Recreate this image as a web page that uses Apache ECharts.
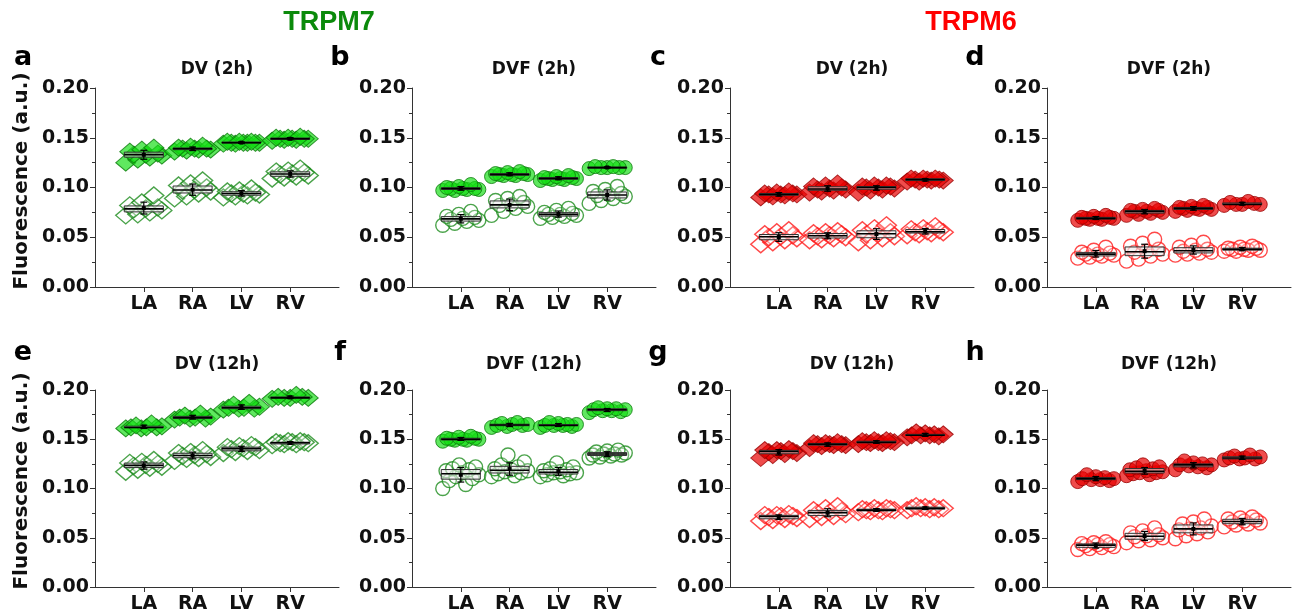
<!DOCTYPE html>
<html><head><meta charset="utf-8">
<script src="https://cdn.jsdelivr.net/npm/echarts@6/dist/echarts.min.js"></script>
<style>html,body{margin:0;padding:0;background:#fff}#c{width:1296px;height:616px}</style>
</head><body><div id="c"></div>
<script>
// ---------- tick labels / categories ----------
const categories = ['LA', 'RA', 'LV', 'RV'];
const yTickValues = [0, 0.05, 0.10, 0.15, 0.20];
const geneHeaders = ['TRPM7', 'TRPM6'];
const panelLetters = ['a', 'b', 'c', 'd', 'e', 'f', 'g', 'h'];
const panelTitles = ['DV (2h)', 'DVF (2h)', 'DV (2h)', 'DVF (2h)', 'DV (12h)', 'DVF (12h)', 'DV (12h)', 'DVF (12h)'];

// ---------- data: each array = [LA, RA, LV, RV] ----------
// a: TRPM7, DV (2h)
const a_filled = [
  [0.125,0.128,0.130,0.132,0.133,0.133,0.134,0.136,0.138,0.140],
  [0.136,0.137,0.138,0.138,0.139,0.139,0.139,0.140,0.141,0.142],
  [0.144,0.144,0.145,0.145,0.145,0.145,0.145,0.146,0.146,0.146],
  [0.147,0.148,0.148,0.149,0.149,0.149,0.149,0.150,0.150,0.151]];
const a_open = [
  [0.072,0.073,0.075,0.077,0.078,0.079,0.080,0.082,0.085,0.092],
  [0.089,0.091,0.094,0.096,0.097,0.098,0.100,0.102,0.104,0.107],
  [0.090,0.091,0.092,0.093,0.094,0.094,0.095,0.096,0.097,0.099],
  [0.109,0.110,0.111,0.112,0.113,0.114,0.115,0.116,0.117,0.119]];
// b: TRPM7, DVF (2h)
const b_filled = [
  [0.097,0.097,0.098,0.098,0.099,0.099,0.099,0.100,0.101,0.103],
  [0.111,0.112,0.112,0.113,0.113,0.113,0.114,0.114,0.115,0.116],
  [0.107,0.108,0.108,0.109,0.109,0.109,0.110,0.110,0.111,0.112],
  [0.119,0.120,0.120,0.120,0.120,0.121,0.121]];
const b_open = [
  [0.062,0.064,0.066,0.067,0.068,0.069,0.070,0.071,0.073,0.076],
  [0.072,0.076,0.079,0.081,0.082,0.083,0.085,0.087,0.089,0.091],
  [0.069,0.070,0.071,0.072,0.073,0.073,0.074,0.075,0.077,0.079],
  [0.084,0.087,0.089,0.091,0.092,0.093,0.094,0.096,0.098,0.101]];
// c: TRPM6, DV (2h)
const c_filled = [
  [0.090,0.091,0.092,0.093,0.093,0.093,0.094,0.094,0.095,0.096],
  [0.095,0.096,0.097,0.098,0.098,0.099,0.100,0.101,0.102,0.104],
  [0.095,0.097,0.098,0.099,0.100,0.100,0.101,0.101,0.102,0.102],
  [0.106,0.106,0.107,0.107,0.108,0.108,0.108,0.109,0.109,0.109]];
const c_open = [
  [0.043,0.045,0.047,0.049,0.050,0.051,0.052,0.053,0.055,0.057],
  [0.047,0.048,0.049,0.050,0.051,0.052,0.053,0.054,0.055,0.056],
  [0.045,0.047,0.049,0.051,0.053,0.054,0.055,0.057,0.059,0.062],
  [0.052,0.053,0.054,0.055,0.055,0.056,0.057,0.058,0.059,0.061]];
// d: TRPM6, DVF (2h)
const d_filled = [
  [0.067,0.068,0.068,0.069,0.069,0.069,0.070,0.070,0.071,0.072],
  [0.072,0.073,0.074,0.075,0.076,0.076,0.077,0.077,0.078,0.079],
  [0.076,0.077,0.078,0.078,0.079,0.079,0.080,0.080,0.081,0.082],
  [0.082,0.083,0.083,0.083,0.084,0.085,0.086]];
const d_open = [
  [0.029,0.030,0.031,0.032,0.033,0.033,0.034,0.035,0.037,0.040],
  [0.026,0.028,0.031,0.033,0.035,0.036,0.038,0.041,0.044,0.048],
  [0.032,0.033,0.034,0.035,0.036,0.037,0.038,0.040,0.042,0.045],
  [0.036,0.036,0.037,0.037,0.038,0.038,0.039,0.039,0.040,0.041]];
// e: TRPM7, DV (12h)
const e_filled = [
  [0.161,0.161,0.162,0.162,0.162,0.163,0.164,0.166],
  [0.170,0.171,0.171,0.172,0.172,0.173,0.174,0.176],
  [0.180,0.181,0.181,0.182,0.182,0.183,0.185,0.187],
  [0.191,0.192,0.192,0.192,0.193,0.193,0.195]];
const e_open = [
  [0.117,0.119,0.121,0.122,0.123,0.124,0.125,0.126,0.127,0.129],
  [0.128,0.130,0.131,0.132,0.133,0.134,0.135,0.136,0.137,0.139],
  [0.136,0.137,0.138,0.139,0.140,0.141,0.142,0.142,0.143,0.144],
  [0.144,0.145,0.145,0.146,0.146,0.147,0.147,0.147,0.148,0.148]];
// f: TRPM7, DVF (12h)
const f_filled = [
  [0.148,0.149,0.149,0.150,0.150,0.150,0.151,0.151,0.152,0.153],
  [0.162,0.163,0.164,0.164,0.165,0.165,0.166,0.167],
  [0.162,0.163,0.164,0.164,0.164,0.165,0.165,0.166,0.167],
  [0.177,0.178,0.179,0.179,0.180,0.180,0.181,0.181,0.182]];
const f_open = [
  [0.100,0.104,0.108,0.110,0.112,0.114,0.116,0.118,0.119,0.120,0.122,0.124],
  [0.112,0.113,0.115,0.116,0.117,0.118,0.119,0.120,0.122,0.124,0.127,0.134],
  [0.112,0.113,0.114,0.115,0.116,0.116,0.117,0.118,0.119,0.120,0.122,0.126],
  [0.131,0.132,0.133,0.134,0.134,0.135,0.135,0.136,0.137,0.138,0.139]];
// g: TRPM6, DV (12h)
const g_filled = [
  [0.131,0.134,0.135,0.136,0.137,0.138,0.138,0.139,0.139,0.140],
  [0.141,0.143,0.144,0.144,0.145,0.145,0.145,0.146,0.146,0.147],
  [0.145,0.146,0.146,0.147,0.147,0.147,0.148,0.148,0.149,0.149],
  [0.152,0.153,0.154,0.154,0.154,0.155,0.155,0.156,0.157]];
const g_open = [
  [0.067,0.068,0.069,0.070,0.071,0.072,0.072,0.073,0.073,0.074],
  [0.069,0.071,0.072,0.074,0.075,0.076,0.077,0.078,0.080,0.082],
  [0.076,0.077,0.077,0.078,0.078,0.078,0.079,0.079,0.080,0.080],
  [0.078,0.079,0.079,0.080,0.080,0.080,0.081,0.081,0.082]];
// h: TRPM6, DVF (12h)
const h_filled = [
  [0.107,0.108,0.109,0.109,0.110,0.110,0.111,0.112,0.114],
  [0.113,0.114,0.115,0.116,0.116,0.117,0.118,0.119,0.120,0.121,0.122,0.124],
  [0.119,0.121,0.122,0.123,0.124,0.124,0.125,0.126,0.128],
  [0.129,0.130,0.130,0.131,0.131,0.132,0.133,0.134]];
const h_open = [
  [0.038,0.039,0.040,0.041,0.042,0.043,0.043,0.044,0.045,0.046],
  [0.045,0.047,0.048,0.050,0.051,0.052,0.053,0.055,0.057,0.060],
  [0.049,0.052,0.054,0.056,0.058,0.059,0.060,0.062,0.064,0.066,0.069],
  [0.061,0.063,0.064,0.065,0.066,0.067,0.068,0.069,0.070,0.071]];

const filledSets = [a_filled, b_filled, c_filled, d_filled, e_filled, f_filled, g_filled, h_filled];
const openSets = [a_open, b_open, c_open, d_open, e_open, f_open, g_open, h_open];

// ---------- styling ----------
const gridLefts = [95, 412, 730, 1047];
const gridW = 244;
const rows = [{top: 88, h: 199}, {top: 390, h: 197}];
const TXT = 'DejaVu Sans';
const greenFilled = {color: 'rgba(20,222,20,0.85)', borderColor: '#0b7a0b', borderWidth: 1};
const greenOpen = {color: 'rgba(255,255,255,0.3)', borderColor: '#1d8c1d', borderWidth: 1.4};
const redFilled = {color: 'rgba(232,0,0,0.88)', borderColor: '#9a0000', borderWidth: 1};
const redOpen = {color: 'rgba(255,255,255,0.3)', borderColor: '#ff1a1a', borderWidth: 1.4};

function gcd(a, b) { return b ? gcd(b, a % b) : a; }
function jitterOffsets(n, spread) {
  const m = [3, 7, 5, 11].find(k => gcd(k, n) === 1);
  const out = [];
  for (let i = 0; i < n; i++) {
    const k = (i * m) % n;
    out.push(n === 1 ? 0 : -spread + 2 * spread * k / (n - 1));
  }
  return out;
}
function stats(arr) {
  const s = [...arr].sort((a, b) => a - b);
  const q = p => { const pos = (s.length - 1) * p, lo = Math.floor(pos), hi = Math.ceil(pos); return s[lo] + (s[hi] - s[lo]) * (pos - lo); };
  const mean = s.reduce((a, b) => a + b, 0) / s.length;
  const sd = Math.sqrt(s.reduce((a, b) => a + (b - mean) ** 2, 0) / (s.length - 1));
  return [q(0.25), q(0.5), q(0.75), mean, sd];
}
function scatterData(groups) {
  const out = [];
  groups.forEach((vals, ci) => {
    const sorted = [...vals].sort((a, b) => a - b);
    const offs = jitterOffsets(sorted.length, 0.37);
    sorted.forEach((v, i) => out.push([ci + 1 + offs[i], v]));
  });
  return out;
}
function boxData(groups) { return groups.map((vals, ci) => [ci + 1, ...stats(vals)]); }
function renderBox(params, api) {
  const x = api.value(0), q1 = api.value(1), med = api.value(2), q3 = api.value(3), mean = api.value(4), sd = api.value(5);
  const bw = 0.4, cw = 0.07;
  const p = (xx, yy) => api.coord([xx, yy]);
  const tl = p(x - bw, q3), br = p(x + bw, q1);
  const ym = p(x, med)[1], yt = p(x, mean + sd)[1], yb = p(x, mean - sd)[1], ymean = p(x, mean)[1];
  const xc = p(x, 0)[0], cl = p(x - cw, 0)[0], cr = p(x + cw, 0)[0];
  return {type: 'group', children: [
    {type: 'rect', shape: {x: tl[0], y: tl[1], width: br[0] - tl[0], height: Math.max(br[1] - tl[1], 1)},
      style: {fill: 'rgba(235,235,235,0.6)', stroke: '#333', lineWidth: 1}},
    {type: 'line', shape: {x1: tl[0], y1: ym, x2: br[0], y2: ym}, style: {stroke: '#000', lineWidth: 1.6}},
    {type: 'line', shape: {x1: xc, y1: yt, x2: xc, y2: yb}, style: {stroke: '#000', lineWidth: 1.2}},
    {type: 'line', shape: {x1: cl, y1: yt, x2: cr, y2: yt}, style: {stroke: '#000', lineWidth: 1.2}},
    {type: 'line', shape: {x1: cl, y1: yb, x2: cr, y2: yb}, style: {stroke: '#000', lineWidth: 1.2}},
    {type: 'rect', shape: {x: xc - 2, y: ymean - 2, width: 4, height: 4}, style: {fill: '#000'}}
  ]};
}

const grid = [], xAxis = [], yAxis = [], series = [], graphic = [];
for (let i = 0; i < 8; i++) {
  const r = rows[Math.floor(i / 4)], col = i % 4;
  const left = gridLefts[col];
  grid.push({left: left, top: r.top, width: gridW, height: r.h});
  xAxis.push({type: 'value', gridIndex: i, min: 0, max: 5, interval: 1,
    axisLine: {show: true, lineStyle: {color: '#333', width: 1}},
    axisTick: {show: true, length: 5, inside: false, customValues: [1, 2, 3, 4], lineStyle: {color: '#333'}},
    splitLine: {show: false},
    axisLabel: {customValues: [1, 2, 3, 4], formatter: v => categories[Math.round(v) - 1] || '',
      fontFamily: TXT, fontWeight: 'bold', fontSize: 19, color: '#111', margin: 8}});
  yAxis.push({type: 'value', gridIndex: i, min: 0, max: 0.2, interval: 0.05,
    axisLine: {show: true, lineStyle: {color: '#333', width: 1}},
    axisTick: {show: true, length: 5, lineStyle: {color: '#333'}},
    minorTick: {show: true, splitNumber: 2, length: 3, lineStyle: {color: '#333'}},
    splitLine: {show: false},
    axisLabel: {formatter: v => v.toFixed(2), fontFamily: TXT, fontWeight: 'bold', fontSize: 19, color: '#111', margin: 6}});
  const isGreen = col < 2;
  const sym = (col % 2 === 0) ? 'diamond' : 'circle';
  const size = sym === 'diamond' ? [20, 17] : 14;
  const fs = isGreen ? greenFilled : redFilled;
  const os = isGreen ? greenOpen : redOpen;
  series.push({type: 'scatter', xAxisIndex: i, yAxisIndex: i, symbol: sym, symbolSize: size,
    data: scatterData(openSets[i]), itemStyle: os, z: 2, silent: true});
  series.push({type: 'custom', xAxisIndex: i, yAxisIndex: i, data: boxData(openSets[i]),
    encode: {x: 0, y: 2}, renderItem: renderBox, z: 3, silent: true});
  series.push({type: 'scatter', xAxisIndex: i, yAxisIndex: i, symbol: sym, symbolSize: size,
    data: scatterData(filledSets[i]), itemStyle: fs, z: 2, silent: true});
  series.push({type: 'custom', xAxisIndex: i, yAxisIndex: i, data: boxData(filledSets[i]),
    encode: {x: 0, y: 2}, renderItem: renderBox, z: 3, silent: true});
  // panel title
  graphic.push({type: 'text', x: left + gridW / 2, y: i < 4 ? 70 : 365,
    style: {text: panelTitles[i], font: 'bold 17px "DejaVu Sans"', fill: '#111', align: 'center', verticalAlign: 'middle'}});
  // panel letter
  graphic.push({type: 'text', x: left - 72, y: i < 4 ? 58 : 353,
    style: {text: panelLetters[i], font: 'bold 27px "DejaVu Sans"', fill: '#000', align: 'center', verticalAlign: 'middle'}});
}
// y-axis names
[181, 481].forEach(cy => graphic.push({type: 'text', x: 22, y: cy, rotation: Math.PI / 2,
  style: {text: 'Fluorescence (a.u.)', font: 'bold 20px "DejaVu Sans"', fill: '#111', align: 'center', verticalAlign: 'middle'}}));
// gene headers
graphic.push({type: 'text', x: 329, y: 23, style: {text: geneHeaders[0], font: 'bold 27px "Liberation Sans"', fill: '#0b8a0b', align: 'center', verticalAlign: 'middle'}});
graphic.push({type: 'text', x: 971, y: 23, style: {text: geneHeaders[1], font: 'bold 27px "Liberation Sans"', fill: '#ff0000', align: 'center', verticalAlign: 'middle'}});

const chart = echarts.init(document.getElementById('c'), null, {renderer: 'canvas'});
chart.setOption({animation: false, backgroundColor: '#fff', grid, xAxis, yAxis, series, graphic});
</script></body></html>
